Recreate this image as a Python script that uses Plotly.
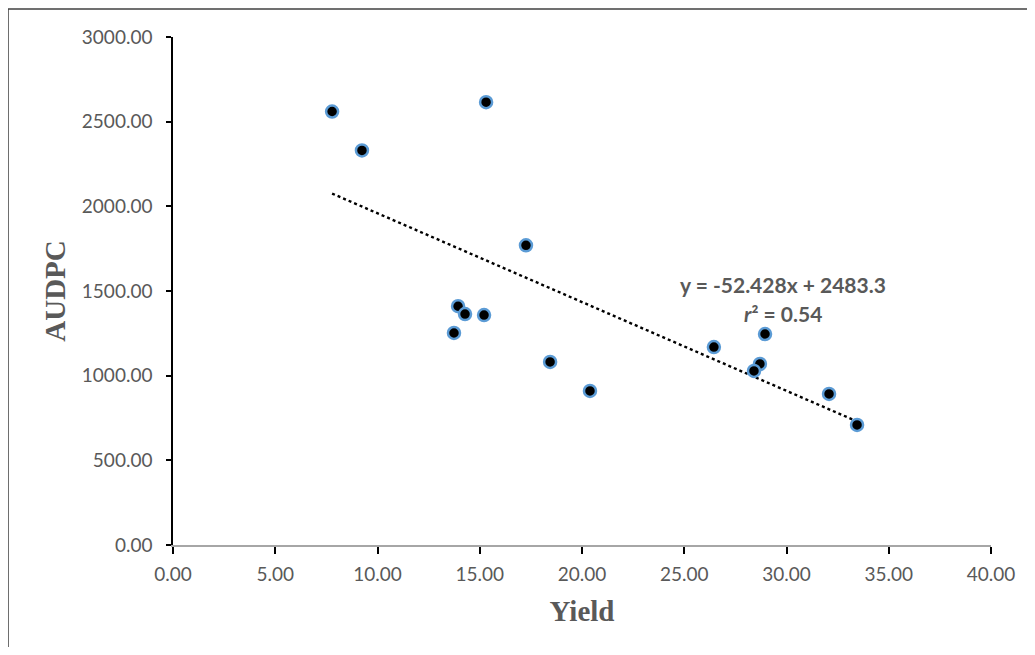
import plotly.graph_objects as go

# Data
yield_vals = [7.78, 9.24, 15.31, 17.26, 13.94, 14.28, 15.21, 13.74, 18.44, 20.39, 26.45, 28.95, 28.70, 28.41, 32.08, 33.45]
audpc_vals = [2560, 2330, 2615, 1770, 1410, 1364, 1358, 1252, 1081, 910, 1169, 1246, 1069, 1028, 892, 709]

# Trendline as stated on the chart
slope = -52.428
intercept = 2483.3
trend_x = [min(yield_vals), max(yield_vals)]
trend_y = [slope * x + intercept for x in trend_x]

x_ticks = [0, 5, 10, 15, 20, 25, 30, 35, 40]
y_ticks = [0, 500, 1000, 1500, 2000, 2500, 3000]

label_color = "#595959"
tick_font = dict(family="Lato, Open Sans, sans-serif", size=19, color=label_color)
title_font = dict(family="Liberation Serif, Times New Roman, serif", size=29, color=label_color)

fig = go.Figure()

fig.add_trace(go.Scatter(
    x=trend_x, y=trend_y, mode="lines",
    line=dict(color="#000000", width=2.4, dash="dot"),
    hoverinfo="skip", showlegend=False,
))

fig.add_trace(go.Scatter(
    x=yield_vals, y=audpc_vals, mode="markers",
    marker=dict(size=12, color="#000000", line=dict(color="#5b9bd5", width=2.5)),
    showlegend=False,
))

fig.add_annotation(
    x=29.83, y=1541, xref="x", yref="y",
    text="<b>y = -52.428x + 2483.3</b>", showarrow=False,
    font=dict(family="Lato, Open Sans, sans-serif", size=21, color=label_color),
)
fig.add_annotation(
    x=29.83, y=1370, xref="x", yref="y",
    text="<b><i>r</i>² = 0.54</b>", showarrow=False,
    font=dict(family="Lato, Open Sans, sans-serif", size=21, color=label_color),
)

# Outer chart border: only its left and top edges fall inside the picture
border = dict(color="#404040", width=1.5)
fig.add_shape(type="line", xref="paper", yref="paper",
              x0=-0.2017, x1=-0.2017, y0=-0.4, y1=1.055, line=border, layer="below")
fig.add_shape(type="line", xref="paper", yref="paper",
              x0=-0.2017, x1=1.3, y0=1.055, y1=1.055, line=border, layer="below")

fig.update_layout(
    width=1019, height=639,
    margin=dict(l=165, r=36, t=29, b=102),
    paper_bgcolor="white", plot_bgcolor="white",
    xaxis=dict(
        range=[0, 40], tickvals=x_ticks, ticktext=[f"{v:.2f}" for v in x_ticks],
        showgrid=False, zeroline=False,
        showline=True, linecolor="#a6a6a6", linewidth=2,
        ticks="outside", ticklen=7, tickcolor="#000000", tickwidth=1.5,
        tickfont=tick_font, ticklabelstandoff=4,
        title=dict(text="<b>Yield</b>", font=title_font, standoff=17),
    ),
    yaxis=dict(
        range=[0, 3000], tickvals=y_ticks, ticktext=[f"{v:.2f}" for v in y_ticks],
        showgrid=False, zeroline=False,
        showline=True, linecolor="#000000", linewidth=1.5,
        ticks="outside", ticklen=5, tickcolor="#000000", tickwidth=1.5,
        tickfont=tick_font, ticklabelstandoff=10,
        title=dict(text="<b>AUDPC</b>", font=title_font, standoff=8),
    ),
)

fig.write_html("out.html")
